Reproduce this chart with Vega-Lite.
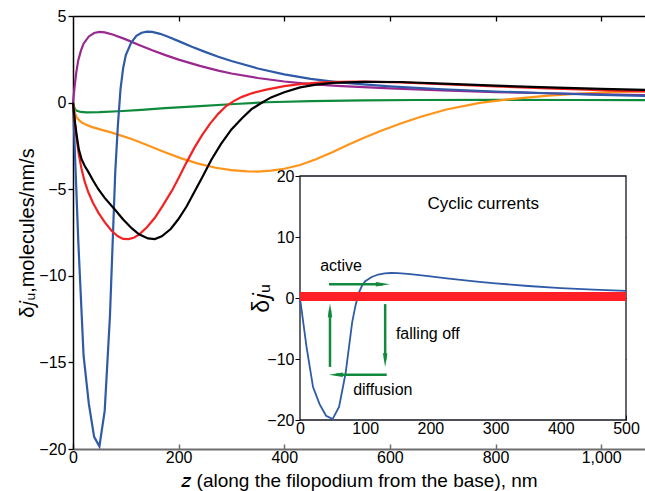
{
  "$schema": "https://vega.github.io/schema/vega-lite/v6.json",
  "width": 572,
  "height": 433,
  "autosize": {"type": "none"},
  "padding": {"left": 73, "top": 16, "right": 0, "bottom": 42},
  "background": "white",
  "config": {
    "view": {"stroke": null},
    "font": "Liberation Sans",
    "axis": {"labelFont": "Liberation Sans", "titleFont": "Liberation Sans", "labelFontSize": 16, "labelColor": "#000", "titleColor": "#000", "titleFontWeight": "normal", "grid": false, "domainColor": "#000", "tickColor": "#000", "labelPadding": 2, "labelFlush": false, "labelOverlap": false},
    "text": {"font": "Liberation Sans"}
  },
  "datasets": {
    "curves": [
      {"c":"green","x":0,"y":0},{"c":"green","x":2,"y":-0.25},{"c":"green","x":4,"y":-0.4},{"c":"green","x":7,"y":-0.47},{"c":"green","x":15,"y":-0.54},{"c":"green","x":25,"y":-0.56},{"c":"green","x":50,"y":-0.55},{"c":"green","x":86,"y":-0.5},{"c":"green","x":130,"y":-0.42},{"c":"green","x":174,"y":-0.32},{"c":"green","x":240,"y":-0.2},{"c":"green","x":306,"y":-0.08},{"c":"green","x":366,"y":0.02},{"c":"green","x":450,"y":0.09},{"c":"green","x":550,"y":0.13},{"c":"green","x":650,"y":0.15},{"c":"green","x":800,"y":0.16},{"c":"green","x":950,"y":0.15},{"c":"green","x":1083,"y":0.14},
      {"c":"orange","x":0,"y":0},{"c":"orange","x":2,"y":-0.35},{"c":"orange","x":4,"y":-0.62},{"c":"orange","x":7,"y":-0.85},{"c":"orange","x":11,"y":-1.0},{"c":"orange","x":16,"y":-1.14},{"c":"orange","x":25,"y":-1.28},{"c":"orange","x":35,"y":-1.4},{"c":"orange","x":48,"y":-1.52},{"c":"orange","x":75,"y":-1.75},{"c":"orange","x":111,"y":-2.1},{"c":"orange","x":140,"y":-2.45},{"c":"orange","x":174,"y":-2.87},{"c":"orange","x":205,"y":-3.22},{"c":"orange","x":237,"y":-3.52},{"c":"orange","x":270,"y":-3.76},{"c":"orange","x":300,"y":-3.9},{"c":"orange","x":330,"y":-3.97},{"c":"orange","x":350,"y":-3.98},{"c":"orange","x":375,"y":-3.93},{"c":"orange","x":400,"y":-3.82},{"c":"orange","x":430,"y":-3.6},{"c":"orange","x":460,"y":-3.27},{"c":"orange","x":492,"y":-2.85},{"c":"orange","x":520,"y":-2.45},{"c":"orange","x":550,"y":-2.05},{"c":"orange","x":581,"y":-1.65},{"c":"orange","x":619,"y":-1.22},{"c":"orange","x":660,"y":-0.8},{"c":"orange","x":707,"y":-0.4},{"c":"orange","x":770,"y":-0.02},{"c":"orange","x":833,"y":0.22},{"c":"orange","x":900,"y":0.4},{"c":"orange","x":959,"y":0.52},{"c":"orange","x":1020,"y":0.6},{"c":"orange","x":1083,"y":0.64},
      {"c":"purple","x":0,"y":0},{"c":"purple","x":3,"y":0.9},{"c":"purple","x":6,"y":1.7},{"c":"purple","x":10,"y":2.45},{"c":"purple","x":15,"y":3.0},{"c":"purple","x":20,"y":3.4},{"c":"purple","x":30,"y":3.82},{"c":"purple","x":40,"y":4.02},{"c":"purple","x":50,"y":4.08},{"c":"purple","x":60,"y":4.05},{"c":"purple","x":75,"y":3.93},{"c":"purple","x":100,"y":3.65},{"c":"purple","x":125,"y":3.33},{"c":"purple","x":150,"y":3.02},{"c":"purple","x":175,"y":2.74},{"c":"purple","x":200,"y":2.48},{"c":"purple","x":240,"y":2.12},{"c":"purple","x":275,"y":1.85},{"c":"purple","x":300,"y":1.68},{"c":"purple","x":350,"y":1.42},{"c":"purple","x":400,"y":1.22},{"c":"purple","x":450,"y":1.07},{"c":"purple","x":500,"y":0.97},{"c":"purple","x":550,"y":0.89},{"c":"purple","x":600,"y":0.82},{"c":"purple","x":700,"y":0.7},{"c":"purple","x":800,"y":0.61},{"c":"purple","x":900,"y":0.54},{"c":"purple","x":1000,"y":0.48},{"c":"purple","x":1083,"y":0.44},
      {"c":"blue","x":0,"y":0},{"c":"blue","x":10,"y":-8},{"c":"blue","x":20,"y":-14.6},{"c":"blue","x":30,"y":-17.4},{"c":"blue","x":40,"y":-19.3},{"c":"blue","x":50,"y":-19.85},{"c":"blue","x":60,"y":-17.8},{"c":"blue","x":70,"y":-12.3},{"c":"blue","x":80,"y":-4},{"c":"blue","x":85,"y":-1.3},{"c":"blue","x":90,"y":0.8},{"c":"blue","x":95,"y":2.0},{"c":"blue","x":100,"y":2.75},{"c":"blue","x":110,"y":3.45},{"c":"blue","x":120,"y":3.85},{"c":"blue","x":130,"y":4.03},{"c":"blue","x":140,"y":4.1},{"c":"blue","x":150,"y":4.08},{"c":"blue","x":165,"y":3.97},{"c":"blue","x":180,"y":3.8},{"c":"blue","x":200,"y":3.55},{"c":"blue","x":225,"y":3.22},{"c":"blue","x":250,"y":2.93},{"c":"blue","x":275,"y":2.65},{"c":"blue","x":300,"y":2.4},{"c":"blue","x":350,"y":1.97},{"c":"blue","x":400,"y":1.63},{"c":"blue","x":450,"y":1.37},{"c":"blue","x":500,"y":1.18},{"c":"blue","x":550,"y":1.05},{"c":"blue","x":600,"y":0.94},{"c":"blue","x":700,"y":0.77},{"c":"blue","x":800,"y":0.64},{"c":"blue","x":900,"y":0.54},{"c":"blue","x":1000,"y":0.45},{"c":"blue","x":1083,"y":0.39},
      {"c":"red","x":0,"y":0},{"c":"red","x":2,"y":-0.7},{"c":"red","x":4,"y":-1.3},{"c":"red","x":7,"y":-2.1},{"c":"red","x":11,"y":-3.0},{"c":"red","x":16,"y":-3.8},{"c":"red","x":22,"y":-4.55},{"c":"red","x":29,"y":-5.18},{"c":"red","x":38,"y":-5.8},{"c":"red","x":48,"y":-6.35},{"c":"red","x":60,"y":-6.9},{"c":"red","x":73,"y":-7.4},{"c":"red","x":85,"y":-7.72},{"c":"red","x":95,"y":-7.87},{"c":"red","x":105,"y":-7.88},{"c":"red","x":115,"y":-7.8},{"c":"red","x":125,"y":-7.62},{"c":"red","x":140,"y":-7.2},{"c":"red","x":155,"y":-6.65},{"c":"red","x":170,"y":-5.95},{"c":"red","x":187,"y":-5.1},{"c":"red","x":200,"y":-4.35},{"c":"red","x":215,"y":-3.45},{"c":"red","x":230,"y":-2.6},{"c":"red","x":245,"y":-1.85},{"c":"red","x":260,"y":-1.2},{"c":"red","x":275,"y":-0.65},{"c":"red","x":290,"y":-0.2},{"c":"red","x":305,"y":0.1},{"c":"red","x":320,"y":0.33},{"c":"red","x":340,"y":0.55},{"c":"red","x":366,"y":0.75},{"c":"red","x":400,"y":0.95},{"c":"red","x":430,"y":1.07},{"c":"red","x":470,"y":1.17},{"c":"red","x":500,"y":1.2},{"c":"red","x":550,"y":1.21},{"c":"red","x":619,"y":1.17},{"c":"red","x":700,"y":1.06},{"c":"red","x":800,"y":0.93},{"c":"red","x":900,"y":0.82},{"c":"red","x":1000,"y":0.72},{"c":"red","x":1083,"y":0.65},
      {"c":"black","x":0,"y":0},{"c":"black","x":2,"y":-0.6},{"c":"black","x":4,"y":-1.2},{"c":"black","x":7,"y":-1.9},{"c":"black","x":11,"y":-2.7},{"c":"black","x":16,"y":-3.25},{"c":"black","x":22,"y":-3.65},{"c":"black","x":29,"y":-4.0},{"c":"black","x":38,"y":-4.5},{"c":"black","x":48,"y":-5.0},{"c":"black","x":60,"y":-5.5},{"c":"black","x":80,"y":-6.2},{"c":"black","x":95,"y":-6.75},{"c":"black","x":111,"y":-7.25},{"c":"black","x":125,"y":-7.6},{"c":"black","x":142,"y":-7.84},{"c":"black","x":155,"y":-7.88},{"c":"black","x":168,"y":-7.72},{"c":"black","x":185,"y":-7.3},{"c":"black","x":199,"y":-6.75},{"c":"black","x":215,"y":-6.0},{"c":"black","x":230,"y":-5.15},{"c":"black","x":245,"y":-4.3},{"c":"black","x":262,"y":-3.3},{"c":"black","x":280,"y":-2.4},{"c":"black","x":300,"y":-1.55},{"c":"black","x":320,"y":-0.9},{"c":"black","x":338,"y":-0.38},{"c":"black","x":355,"y":-0.05},{"c":"black","x":375,"y":0.3},{"c":"black","x":400,"y":0.6},{"c":"black","x":430,"y":0.88},{"c":"black","x":460,"y":1.04},{"c":"black","x":492,"y":1.14},{"c":"black","x":550,"y":1.2},{"c":"black","x":619,"y":1.19},{"c":"black","x":700,"y":1.1},{"c":"black","x":800,"y":0.98},{"c":"black","x":900,"y":0.88},{"c":"black","x":1000,"y":0.79},{"c":"black","x":1083,"y":0.73}
    ],
    "arrows": [
      {"arrow":"active","x":44.5,"y":2.25,"xe":127,"ye":2.25,"dir":"right"},
      {"arrow":"return","x":46,"y":-11.3,"xe":46,"ye":-2.0,"dir":"up"},
      {"arrow":"falling","x":130.6,"y":-1.0,"xe":130.6,"ye":-10.2,"dir":"down"},
      {"arrow":"diffusion","x":133,"y":-12.6,"xe":55,"ye":-12.6,"dir":"left"}
    ],
    "notes": [
      {"t":"Cyclic currents","x":281,"y":15.4,"kind":"title"},
      {"t":"active","x":63,"y":5.25,"kind":"label"},
      {"t":"falling off","x":196,"y":-5.9,"kind":"label"},
      {"t":"diffusion","x":127,"y":-15.1,"kind":"label"}
    ],
    "bar": [{"x":0,"y":0.25},{"x":500,"y":0.25}],
    "box": [{"x0":0,"x1":500,"y0":-20,"y1":20}]
  },
  "layer": [
    {
      "data": {"name": "curves"},
      "layer": [
        {
          "mark": {"type": "line", "strokeWidth": 2.2},
          "encoding": {
            "x": {"field": "x", "type": "quantitative", "scale": {"domain": [0, 1083], "nice": false, "zero": false},
                  "axis": {"orient": "bottom", "values": [0, 200, 400, 600, 800, 1000], "title": "𝑧 (along the filopodium from the base), nm", "titleFontSize": 19, "domainColor": "#6e6e6e", "domainWidth": 2, "tickColor": "#6e6e6e", "tickSize": -5, "tickWidth": 1.5, "labelPadding": 5, "titlePadding": 6}},
            "y": {"field": "y", "type": "quantitative", "scale": {"domain": [-20, 5], "nice": false, "zero": false},
                  "axis": {"orient": "left", "values": [-20, -15, -10, -5, 0, 5], "title": "δ𝑗ᵤ,molecules/nm/s", "titleFontSize": 20, "tickSize": 5, "tickWidth": 1.3, "domainWidth": 1.5, "labelPadding": 2, "titlePadding": 1}},
            "color": {"field": "c", "type": "nominal", "scale": {"domain": ["green", "orange", "purple", "blue", "red", "black"], "range": ["#0e8a3c", "#ff9419", "#99288f", "#2f5aa8", "#f42222", "#000000"]}, "legend": null}
          }
        },
        {
          "mark": {"type": "line", "strokeOpacity": 0},
          "encoding": {
            "x": {"field": "x", "type": "quantitative", "axis": {"orient": "top", "values": [200, 400, 600, 800, 1000], "labels": false, "title": null, "tickSize": -5, "tickWidth": 1.3, "domainWidth": 1.5}},
            "y": {"field": "y", "type": "quantitative", "axis": null},
            "detail": {"field": "c"}
          }
        }
      ],
      "resolve": {"axis": {"x": "independent", "y": "independent"}}
    },
    {
      "layer": [
        {
          "data": {"name": "box"},
          "mark": {"type": "rect", "fill": "white", "stroke": "#141420", "strokeWidth": 1.3},
          "encoding": {
            "x": {"field": "x0", "type": "quantitative", "scale": {"domain": [0, 500], "range": [227, 553], "nice": false, "zero": false},
                  "axis": {"orient": "top", "offset": -160, "values": [100, 200, 300, 400], "labels": false, "title": null, "tickSize": -5, "domain": false}},
            "x2": {"field": "x1"},
            "y": {"field": "y0", "type": "quantitative", "scale": {"domain": [-20, 20], "range": [404, 160], "nice": false, "zero": false},
                  "axis": {"orient": "right", "offset": -19, "values": [-10, 0, 10], "labels": false, "title": null, "tickSize": -5, "domain": false}},
            "y2": {"field": "y1"}
          }
        },
        {
          "data": {"name": "curves"},
          "transform": [{"filter": "datum.c === 'blue' && datum.x <= 500"}],
          "mark": {"type": "line", "color": "#2f5aa8", "strokeWidth": 1.8},
          "encoding": {
            "x": {"field": "x", "type": "quantitative", "scale": {"domain": [0, 500], "range": [227, 553], "nice": false, "zero": false},
                  "axis": {"orient": "bottom", "offset": -29, "values": [0, 100, 200, 300, 400, 500], "title": null, "tickSize": -5, "domain": false, "labelPadding": 5}},
            "y": {"field": "y", "type": "quantitative", "scale": {"domain": [-20, 20], "range": [404, 160], "nice": false, "zero": false},
                  "axis": {"orient": "left", "offset": -227, "values": [-20, -10, 0, 10, 20], "title": "δ𝑗ᵤ", "titleFontSize": 23, "tickSize": 5, "domain": false, "labelPadding": 1, "titlePadding": -7}}
          }
        },
        {
          "data": {"name": "bar"},
          "mark": {"type": "line", "color": "#ff1f26", "strokeWidth": 9, "strokeCap": "butt"},
          "encoding": {
            "x": {"field": "x", "type": "quantitative", "axis": null},
            "y": {"field": "y", "type": "quantitative", "axis": null}
          }
        },
        {
          "data": {"name": "arrows"},
          "mark": {"type": "rule", "color": "#128a3e", "strokeWidth": 2.5},
          "encoding": {
            "x": {"field": "x", "type": "quantitative", "axis": null},
            "y": {"field": "y", "type": "quantitative", "axis": null},
            "x2": {"field": "xe"},
            "y2": {"field": "ye"}
          }
        },
        {
          "data": {"name": "arrows"},
          "mark": {"type": "point", "filled": true, "opacity": 1, "size": 196, "color": "#128a3e"},
          "encoding": {
            "x": {"field": "xe", "type": "quantitative", "axis": null},
            "y": {"field": "ye", "type": "quantitative", "axis": null},
            "shape": {"field": "dir", "type": "nominal", "scale": {"domain": ["right", "up", "down", "left"], "range": ["M-1,-0.32L1,0L-1,0.32Z", "M-0.32,1L0,-1L0.32,1Z", "M-0.32,-1L0,1L0.32,-1Z", "M1,-0.32L-1,0L1,0.32Z"]}, "legend": null}
          }
        },
        {
          "data": {"name": "notes"},
          "transform": [{"filter": "datum.kind === 'title'"}],
          "mark": {"type": "text", "fontSize": 17, "color": "#000", "align": "center", "baseline": "middle"},
          "encoding": {
            "x": {"field": "x", "type": "quantitative", "axis": null},
            "y": {"field": "y", "type": "quantitative", "axis": null},
            "text": {"field": "t"}
          }
        },
        {
          "data": {"name": "notes"},
          "transform": [{"filter": "datum.kind === 'label'"}],
          "mark": {"type": "text", "fontSize": 16, "color": "#000", "align": "center", "baseline": "middle"},
          "encoding": {
            "x": {"field": "x", "type": "quantitative", "axis": null},
            "y": {"field": "y", "type": "quantitative", "axis": null},
            "text": {"field": "t"}
          }
        }
      ],
      "resolve": {"axis": {"x": "independent", "y": "independent"}}
    }
  ],
  "resolve": {"scale": {"x": "independent", "y": "independent"}, "axis": {"x": "independent", "y": "independent"}}
}
